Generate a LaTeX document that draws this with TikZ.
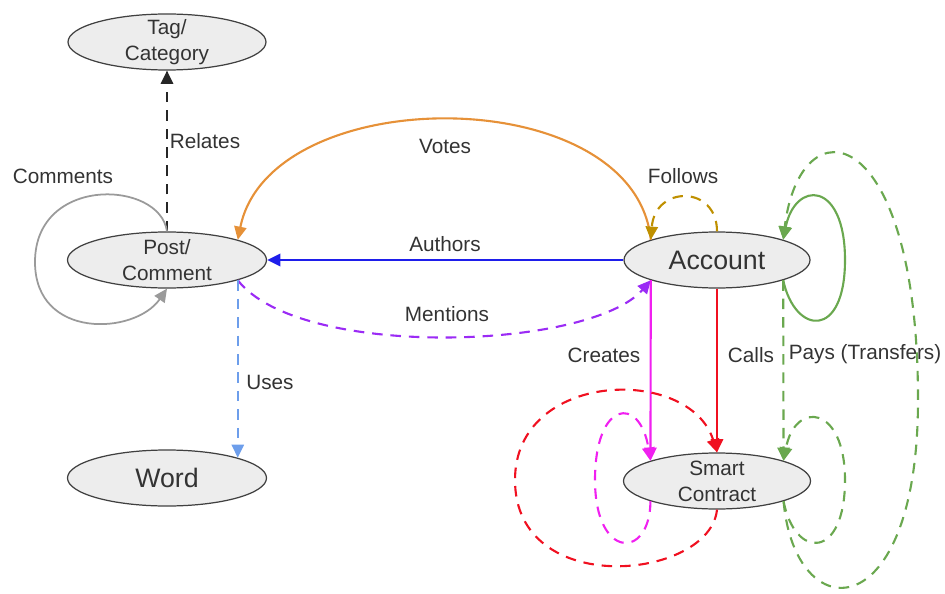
\documentclass[tikz,border=0pt]{standalone}
\usepackage{fontspec}
\setmainfont{Liberation Sans}
\usetikzlibrary{shapes.geometric,arrows.meta}

\definecolor{cmtcol}{HTML}{9A9A9A}
\definecolor{votecol}{HTML}{E69138}
\definecolor{authcol}{HTML}{1E1EEB}
\definecolor{mentcol}{HTML}{9B2BF5}
\definecolor{usecol}{HTML}{6D9EEB}
\definecolor{follcol}{HTML}{BF9000}
\definecolor{creacol}{HTML}{F020F0}
\definecolor{callcol}{HTML}{F01020}
\definecolor{paycol}{HTML}{6AA84F}

\begin{document}
\begin{tikzpicture}[x=0.2mm,y=-0.2mm,
  font=\fontsize{11.8}{14.8}\selectfont, text=black!80,
  ent/.style={draw=black!75, fill=black!7, line width=0.7pt, ellipse,
    inner xsep=0pt, inner ysep=-3.5pt, minimum height=1.12cm, align=center},
  arw/.style={-{Triangle[length=7.5pt,width=7pt]}},
  brk/.style={dash pattern=on 6pt off 4.5pt}]
\useasboundingbox (0,0) rectangle (945,594);

\node[ent, minimum width=3.96cm] (tag) at (167,42) {Tag/\\Category};
\node[ent, minimum width=3.98cm] (post) at (167,260) {Post/\\Comment};
\node[ent, minimum width=3.98cm, font=\fontsize{15.2}{18}\selectfont] (word) at (167,478) {Word};
\node[ent, minimum width=3.72cm, font=\fontsize{15.2}{18}\selectfont] (account) at (717,260) {Account};
\node[ent, minimum width=3.74cm] (sc) at (717,481) {Smart\\Contract};

\path[draw,line width=1.2pt,arw,brk,color=black!85] (post.north) -- (tag.south);
\path[draw,line width=1pt,arw,color=cmtcol] (post.north) .. controls (160,180) and (35,175) .. (35,262)
  .. controls (35,340) and (135,335) .. (post.south);
\path[draw,line width=1.2pt,arw,color=votecol] (account.north west) .. controls (635,80) and (270,80) .. (post.north east);
\path[draw,line width=1.4pt,arw,color=authcol] (account.west) -- (post.east);
\path[draw,line width=1.2pt,arw,brk,color=mentcol] (post.south east) .. controls (300,360) and (590,350) .. (account.south west);
\path[draw,line width=1.2pt,arw,brk,color=usecol] (post.south east) -- (word.north east);
\path[draw,line width=1.2pt,arw,brk,color=follcol] (account.north) .. controls (717,185) and (655,185) .. (account.north west);

\path[draw,line width=1.2pt,arw,color=creacol] (account.south west) -- (sc.north west);
\path[draw,line width=1.2pt,arw,color=callcol] (account.south) -- (sc.north);
\path[draw,line width=1.2pt,arw,brk,color=paycol] (account.south east) -- (sc.north east);

\path[draw,line width=1.2pt,arw,color=paycol] (account.south east) .. controls (795,335) and (845,340) .. (845,260)
  .. controls (845,180) and (795,180) .. (account.north east);
\path[draw,line width=1.2pt,arw,brk,color=paycol] (sc.south east) .. controls (795,630) and (918,630) .. (918,400)
  .. controls (918,120) and (800,100) .. (account.north east);
\path[draw,line width=1.2pt,arw,brk,color=paycol] (sc.south east) .. controls (795,560) and (845,560) .. (845,480)
  .. controls (845,405) and (795,400) .. (sc.north east);
\path[draw,line width=1.2pt,arw,brk,color=creacol] (sc.south west) .. controls (650,560) and (595,560) .. (595,480)
  .. controls (595,400) and (640,395) .. (sc.north west);
\path[draw,line width=1.2pt,arw,brk,color=callcol] (sc.south) .. controls (710,580) and (515,600) .. (515,480)
  .. controls (515,370) and (690,365) .. (sc.north);

\node (relates) at (205,141) {Relates};
\node (comments) at (63,176) {Comments};
\node (votes) at (445,146) {Votes};
\node (authors) at (445,244) {Authors};
\node (mentions) at (447,314) {Mentions};
\node (uses) at (270,382) {Uses};
\node (follows) at (683,176) {Follows};
\node (creates) at (604,355) {Creates};
\node (calls) at (751,355) {Calls};
\node (pays) at (865,354) {Pays (Transfers)};
\end{tikzpicture}
\end{document}
